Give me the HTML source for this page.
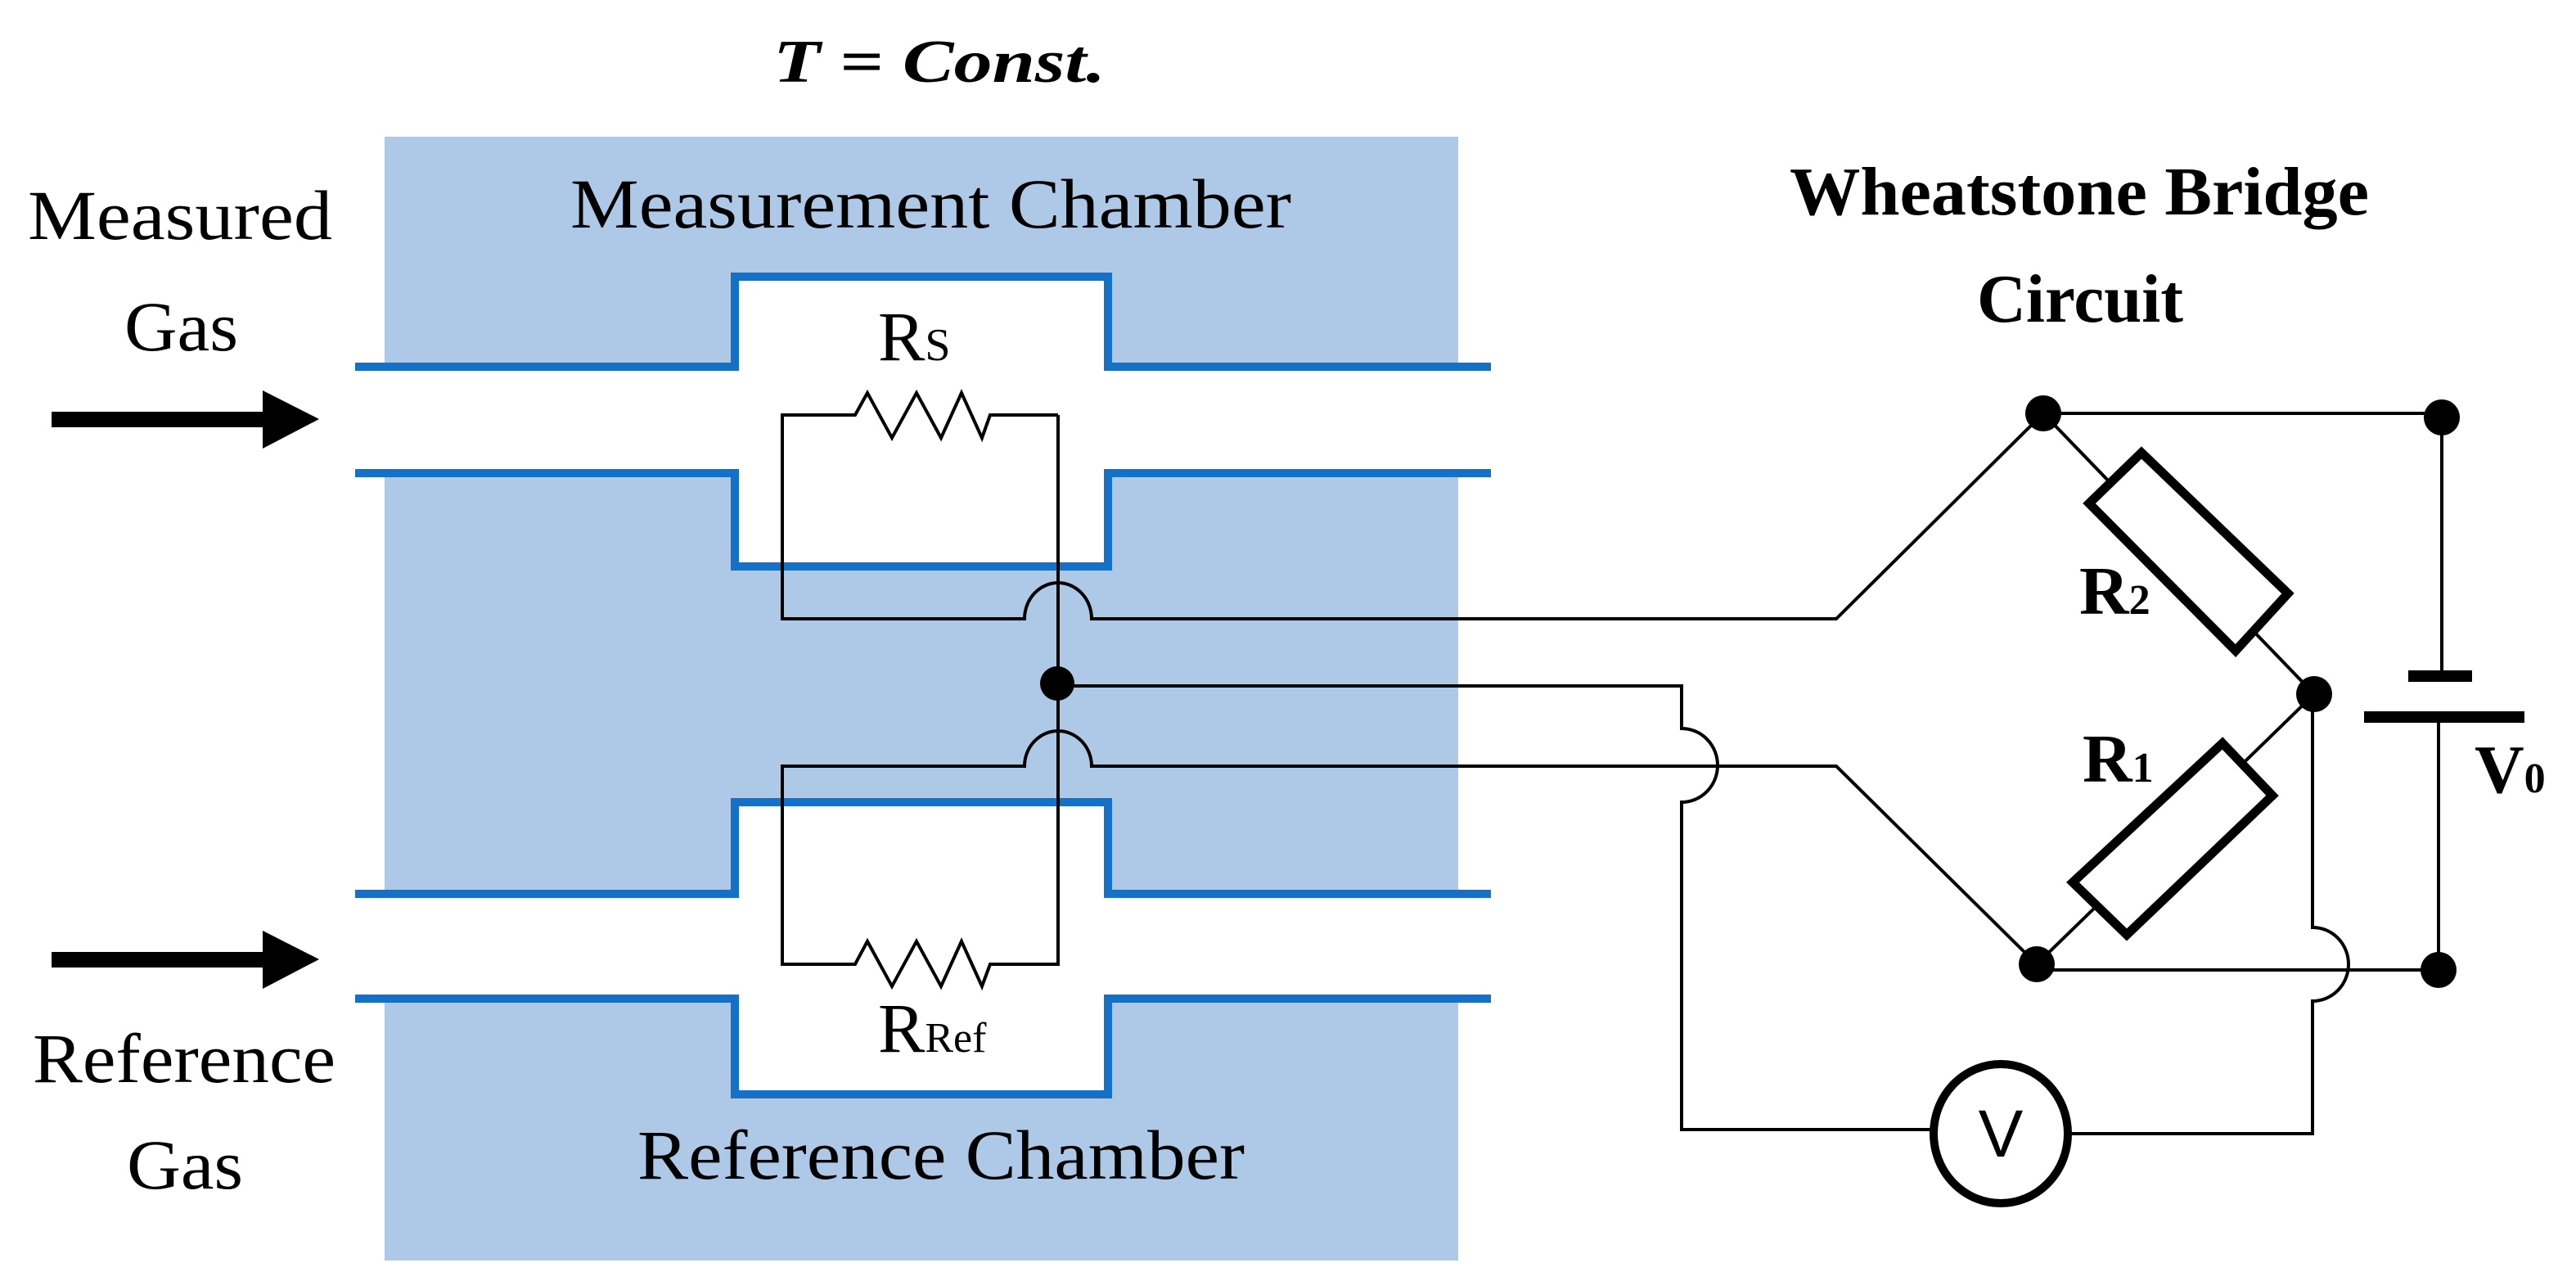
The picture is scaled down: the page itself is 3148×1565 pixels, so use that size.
<!DOCTYPE html>
<html><head><meta charset="utf-8"><style>html,body{margin:0;padding:0;background:#fff}svg{display:block}</style></head>
<body>
<svg width="3148" height="1565" viewBox="0 0 3148 1565" xmlns="http://www.w3.org/2000/svg">
<rect x="470" y="167" width="1312" height="1373" fill="#aec8e8"/>
<path d="M434 448 H898 V338 H1354 V448 H1822 V578 H1354 V692 H898 V578 H434 Z" fill="#fff"/>
<path d="M434 1092 H898 V980 H1354 V1092 H1822 V1220 H1354 V1337 H898 V1220 H434 Z" fill="#fff"/>
<g fill="none" stroke="#1570c8" stroke-width="10">
<path d="M434 448 H898 V338 H1354 V448 H1822"/>
<path d="M434 578 H898 V692 H1354 V578 H1822"/>
<path d="M434 1092 H898 V980 H1354 V1092 H1822"/>
<path d="M434 1220 H898 V1337 H1354 V1220 H1822"/>
</g>
<g fill="#000">
<rect x="63" y="503" width="262" height="19"/>
<polygon points="321,477 390,512 321,548"/>
<rect x="63" y="1163" width="262" height="19"/>
<polygon points="321,1137 390,1172 321,1208"/>
</g>
<g fill="none" stroke="#000" stroke-width="4" stroke-linejoin="miter">
<path d="M1293 507 H1210 L1200 535 L1175 480 L1150 535 L1120 480 L1090 535 L1060 480 L1045 507 H956 V756 H1252 A41 44 0 0 1 1334 756 H2244 L2497 505"/>
<path d="M1293 507 V1178 H1210 L1200 1205 L1175 1150 L1150 1205 L1120 1150 L1090 1205 L1060 1150 L1045 1178 H956 V936 H1252 A41 43 0 0 1 1334 936 H2244 L2489 1178"/>
<path d="M1293 838 H2055 V890 A44 45 0 0 1 2055 980 V1380 H2363"/>
<path d="M2527 1385 H2826 V1223 A44 45 0 0 0 2826 1133 V848"/>
<path d="M2497 505 L2828 848 L2489 1178"/>
<path d="M2497 505 H2984 V826"/>
<path d="M2980 876 V1185 H2489"/>
</g>
<g fill="#000">
<circle cx="1292" cy="835" r="21"/>
<circle cx="2497" cy="505" r="22"/>
<circle cx="2984" cy="510" r="22"/>
<circle cx="2828" cy="848" r="22"/>
<circle cx="2489" cy="1178" r="22"/>
<circle cx="2980" cy="1185" r="22"/>
<rect x="2943" y="819" width="78" height="14"/>
<rect x="2889" y="869" width="196" height="14"/>
</g>
<g fill="#fff" stroke="#000" stroke-width="11">
<polygon points="2553,615 2617,553 2796,725 2732,795"/>
<polygon points="2716,908 2777,972 2599,1142 2533,1078"/>
<ellipse cx="2445" cy="1385" rx="82" ry="85" stroke-width="10"/>
</g>
<text x="2445" y="1413" font-family="Liberation Sans, sans-serif" font-size="82" text-anchor="middle">V</text>
<g font-family="Liberation Serif, serif" fill="#000">
<text x="945" y="100" font-size="74" font-style="italic" font-weight="bold" textLength="406" lengthAdjust="spacingAndGlyphs">T = Const.</text>
<text x="697" y="278" font-size="86" textLength="881" lengthAdjust="spacingAndGlyphs">Measurement Chamber</text>
<text x="779" y="1440" font-size="86" textLength="742" lengthAdjust="spacingAndGlyphs">Reference Chamber</text>
<text x="34" y="292" font-size="86" textLength="372" lengthAdjust="spacingAndGlyphs">Measured</text>
<text x="152" y="428" font-size="86" textLength="139" lengthAdjust="spacingAndGlyphs">Gas</text>
<text x="40" y="1322" font-size="86" textLength="370" lengthAdjust="spacingAndGlyphs">Reference</text>
<text x="155" y="1452" font-size="86" textLength="142" lengthAdjust="spacingAndGlyphs">Gas</text>
<text x="1073" y="440" font-size="86">R<tspan font-size="56">S</tspan></text>
<text x="1073" y="1285" font-size="86">R<tspan font-size="52">Ref</tspan></text>
<text x="2187" y="262" font-size="84" font-weight="bold" textLength="708" lengthAdjust="spacingAndGlyphs">Wheatstone Bridge</text>
<text x="2416" y="393" font-size="84" font-weight="bold" textLength="252" lengthAdjust="spacingAndGlyphs">Circuit</text>
<text x="2541" y="750" font-size="84" font-weight="bold">R<tspan font-size="52">2</tspan></text>
<text x="2545" y="955" font-size="84" font-weight="bold">R<tspan font-size="52">1</tspan></text>
<text x="3024" y="968" font-size="84" font-weight="bold">V<tspan font-size="52">0</tspan></text>
</g>
</svg>
</body></html>
